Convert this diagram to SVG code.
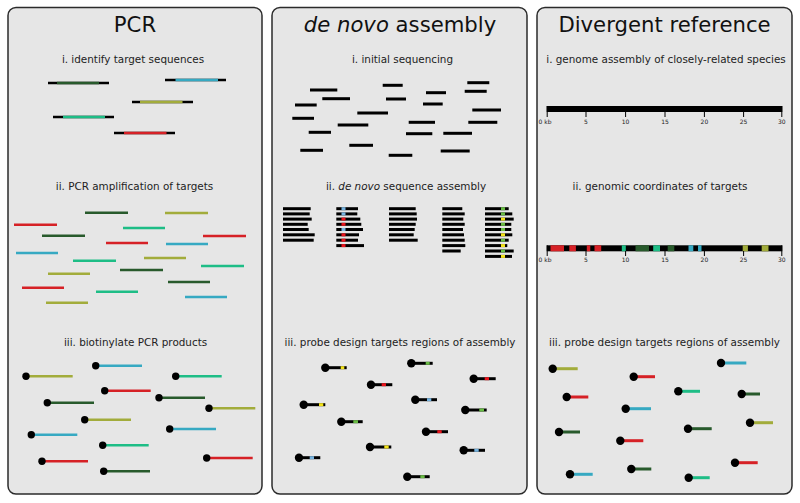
<svg xmlns="http://www.w3.org/2000/svg" width="800" height="503" viewBox="0 0 800 503">
<style>
.panel{fill:#e6e6e6;stroke:#2b2b2b;stroke-width:1.5}
.title{font-family:"DejaVu Sans",sans-serif;font-size:21.2px;fill:#111;text-anchor:middle}
.sub{font-family:"DejaVu Sans",sans-serif;font-size:10.4px;fill:#222;text-anchor:middle}
.tick{font-family:"DejaVu Sans",sans-serif;font-size:6px;fill:#222;text-anchor:middle}
line{stroke-linecap:butt}
.k{stroke:#000}
.r{stroke:#d62126}
.b{stroke:#36a9c2}
.o{stroke:#a2ac3b}
.t{stroke:#1ebd86}
.g{stroke:#285a2c}
.lb{stroke:#77b3df}
.rr{stroke:#e8141c}
.lg{stroke:#69bb45}
.y{stroke:#f2e21a}
.w25{stroke-width:2.6}
.w3{stroke-width:3}
.dot{fill:#000}
</style>

<!-- Panel 1: PCR -->
<g id="panel-pcr">
<rect class="panel" x="8" y="7.5" width="254" height="486.5" rx="8"/>
<text class="title" x="135" y="32">PCR</text>
<text class="sub" x="133" y="63">i. identify target sequences</text>
<g class="w25">
<line class="k" x1="48" y1="83" x2="109" y2="83"/><line class="g" x1="57" y1="83" x2="99" y2="83"/>
<line class="k" x1="165" y1="80" x2="226" y2="80"/><line class="b" x1="175.5" y1="80" x2="218" y2="80"/>
<line class="k" x1="132" y1="102" x2="193" y2="102"/><line class="o" x1="140" y1="102" x2="182.5" y2="102"/>
<line class="k" x1="53" y1="117" x2="114" y2="117"/><line class="t" x1="63" y1="117" x2="105" y2="117"/>
<line class="k" x1="114" y1="133" x2="175" y2="133"/><line class="r" x1="124" y1="133" x2="166.5" y2="133"/>
</g>
<text class="sub" x="134.5" y="190">ii. PCR amplification of targets</text>
<g class="w25">
<line class="g" x1="85" y1="212.7" x2="128" y2="212.7"/>
<line class="o" x1="165" y1="213" x2="208" y2="213"/>
<line class="r" x1="14" y1="224.7" x2="57" y2="224.7"/>
<line class="t" x1="123" y1="228" x2="165" y2="228"/>
<line class="g" x1="42" y1="235.7" x2="85" y2="235.7"/>
<line class="r" x1="203" y1="236" x2="246" y2="236"/>
<line class="r" x1="106" y1="243" x2="148" y2="243"/>
<line class="b" x1="166" y1="244" x2="208" y2="244"/>
<line class="b" x1="16" y1="253" x2="58" y2="253"/>
<line class="o" x1="144" y1="258" x2="186" y2="258"/>
<line class="t" x1="73" y1="260.7" x2="116" y2="260.7"/>
<line class="t" x1="201" y1="266" x2="244" y2="266"/>
<line class="g" x1="120" y1="270" x2="163" y2="270"/>
<line class="o" x1="48" y1="273.7" x2="90" y2="273.7"/>
<line class="g" x1="168" y1="282" x2="210" y2="282"/>
<line class="r" x1="22" y1="287.7" x2="64" y2="287.7"/>
<line class="t" x1="96" y1="291.7" x2="138" y2="291.7"/>
<line class="b" x1="185" y1="297" x2="227" y2="297"/>
<line class="o" x1="46" y1="302.7" x2="88" y2="302.7"/>
</g>
<text class="sub" x="135.5" y="346">iii. biotinylate PCR products</text>
<g class="w25">
<line class="o" x1="26" y1="376.3" x2="72.7" y2="376.3"/><circle class="dot" cx="26" cy="376.3" r="3.7"/>
<line class="b" x1="95.7" y1="365.7" x2="142" y2="365.7"/><circle class="dot" cx="95.7" cy="365.7" r="3.7"/>
<line class="t" x1="175.7" y1="376.3" x2="221.7" y2="376.3"/><circle class="dot" cx="175.7" cy="376.3" r="3.7"/>
<line class="r" x1="104.7" y1="390.7" x2="150.7" y2="390.7"/><circle class="dot" cx="104.7" cy="390.7" r="3.7"/>
<line class="g" x1="47.3" y1="402.7" x2="94" y2="402.7"/><circle class="dot" cx="47.3" cy="402.7" r="3.7"/>
<line class="g" x1="159" y1="397.7" x2="205" y2="397.7"/><circle class="dot" cx="159" cy="397.7" r="3.7"/>
<line class="o" x1="209" y1="408.3" x2="255.3" y2="408.3"/><circle class="dot" cx="209" cy="408.3" r="3.7"/>
<line class="o" x1="84.7" y1="419.7" x2="131" y2="419.7"/><circle class="dot" cx="84.7" cy="419.7" r="3.7"/>
<line class="b" x1="31.3" y1="434.7" x2="77.3" y2="434.7"/><circle class="dot" cx="31.3" cy="434.7" r="3.7"/>
<line class="b" x1="169.7" y1="429" x2="216" y2="429"/><circle class="dot" cx="169.7" cy="429" r="3.7"/>
<line class="t" x1="102.7" y1="445.3" x2="148.7" y2="445.3"/><circle class="dot" cx="102.7" cy="445.3" r="3.7"/>
<line class="r" x1="42" y1="461.3" x2="88" y2="461.3"/><circle class="dot" cx="42" cy="461.3" r="3.7"/>
<line class="r" x1="206.7" y1="458" x2="252.7" y2="458"/><circle class="dot" cx="206.7" cy="458" r="3.7"/>
<line class="g" x1="103.7" y1="471.3" x2="150" y2="471.3"/><circle class="dot" cx="103.7" cy="471.3" r="3.7"/>
</g>
</g>

<!-- Panel 2: de novo assembly -->
<g id="panel-denovo">
<rect class="panel" x="272" y="7.5" width="255" height="486.5" rx="8"/>
<text class="title" x="400" y="32"><tspan font-style="italic">de novo</tspan> assembly</text>
<text class="sub" x="402.5" y="63">i. initial sequencing</text>
<g class="k w3">
<line x1="310" y1="90" x2="337.3" y2="90"/>
<line x1="382.7" y1="85.3" x2="402.7" y2="85.3"/>
<line x1="467.3" y1="82.7" x2="489.3" y2="82.7"/>
<line x1="322.3" y1="98.7" x2="350" y2="98.7"/>
<line x1="386" y1="99" x2="406" y2="99"/>
<line x1="426" y1="92.7" x2="446" y2="92.7"/>
<line x1="464.7" y1="91.3" x2="486.7" y2="91.3"/>
<line x1="295" y1="105" x2="316.7" y2="105"/>
<line x1="423" y1="104" x2="442.7" y2="104"/>
<line x1="472.3" y1="110" x2="501" y2="110"/>
<line x1="357.3" y1="113" x2="388" y2="113"/>
<line x1="292.3" y1="118.3" x2="314" y2="118.3"/>
<line x1="337.7" y1="125" x2="368.3" y2="125"/>
<line x1="408.7" y1="122.3" x2="435" y2="122.3"/>
<line x1="468.3" y1="122.3" x2="497.3" y2="122.3"/>
<line x1="308.7" y1="132.3" x2="331" y2="132.3"/>
<line x1="406" y1="133.7" x2="432.3" y2="133.7"/>
<line x1="443.3" y1="133.3" x2="472" y2="133.3"/>
<line x1="349.3" y1="145.3" x2="373" y2="145.3"/>
<line x1="300.3" y1="150.3" x2="323" y2="150.3"/>
<line x1="388.7" y1="155.3" x2="412.3" y2="155.3"/>
<line x1="440.7" y1="151" x2="469.7" y2="151"/>
</g>
<text class="sub" x="406" y="190">ii. <tspan font-style="italic">de novo</tspan> sequence assembly</text>
<g class="k w3">
<!-- stack 1 -->
<line x1="283" y1="208.7" x2="310.7" y2="208.7"/>
<line x1="283" y1="213.9" x2="309.7" y2="213.9"/>
<line x1="283" y1="219.1" x2="311.7" y2="219.1"/>
<line x1="283" y1="224.3" x2="307.7" y2="224.3"/>
<line x1="283" y1="229.5" x2="308.7" y2="229.5"/>
<line x1="283" y1="234.8" x2="314.7" y2="234.8"/>
<line x1="283" y1="240.2" x2="313.7" y2="240.2"/>
<!-- stack 2 -->
<line x1="336.3" y1="208.7" x2="358" y2="208.7"/>
<line x1="336.3" y1="213.9" x2="357.3" y2="213.9"/>
<line x1="336.3" y1="219.1" x2="360.3" y2="219.1"/>
<line x1="336.3" y1="224.3" x2="361.3" y2="224.3"/>
<line x1="336.3" y1="229.5" x2="363" y2="229.5"/>
<line x1="336.3" y1="234.8" x2="359" y2="234.8"/>
<line x1="336.3" y1="240.2" x2="358" y2="240.2"/>
<line x1="336.3" y1="245.6" x2="364" y2="245.6"/>
<!-- stack 3 -->
<line x1="389" y1="208.7" x2="415.7" y2="208.7"/>
<line x1="389" y1="213.9" x2="416.7" y2="213.9"/>
<line x1="389" y1="219.1" x2="417" y2="219.1"/>
<line x1="389" y1="224.3" x2="415.7" y2="224.3"/>
<line x1="389" y1="229.5" x2="414.7" y2="229.5"/>
<line x1="389" y1="234.8" x2="413.7" y2="234.8"/>
<line x1="389" y1="240.2" x2="417.7" y2="240.2"/>
<!-- stack 4 -->
<line x1="442.3" y1="208.7" x2="462.3" y2="208.7"/>
<line x1="442.3" y1="213.9" x2="464.7" y2="213.9"/>
<line x1="442.3" y1="219.1" x2="463.3" y2="219.1"/>
<line x1="442.3" y1="224.3" x2="464.7" y2="224.3"/>
<line x1="442.3" y1="229.5" x2="463" y2="229.5"/>
<line x1="442.3" y1="234.8" x2="464" y2="234.8"/>
<line x1="442.3" y1="240.2" x2="464.7" y2="240.2"/>
<line x1="442.3" y1="245.6" x2="465.3" y2="245.6"/>
<line x1="442.3" y1="251" x2="460.7" y2="251"/>
<!-- stack 5 -->
<line x1="485" y1="208.7" x2="508.7" y2="208.7"/>
<line x1="485" y1="213.9" x2="512.3" y2="213.9"/>
<line x1="485" y1="219.1" x2="513.7" y2="219.1"/>
<line x1="485" y1="224.3" x2="511.3" y2="224.3"/>
<line x1="485" y1="229.5" x2="511.3" y2="229.5"/>
<line x1="485" y1="234.8" x2="512.3" y2="234.8"/>
<line x1="485" y1="240.2" x2="508.7" y2="240.2"/>
<line x1="485" y1="245.6" x2="507.3" y2="245.6"/>
<line x1="485" y1="251" x2="513.7" y2="251"/>
<line x1="485" y1="256.4" x2="512" y2="256.4"/>
</g>
<g class="w3">
<line class="lb" x1="341.5" y1="208.7" x2="345.5" y2="208.7"/>
<line class="lb" x1="341.5" y1="213.9" x2="345.5" y2="213.9"/>
<line class="rr" x1="341.5" y1="219.1" x2="345.5" y2="219.1"/>
<line class="rr" x1="341.5" y1="224.3" x2="345.5" y2="224.3"/>
<line class="lb" x1="341.5" y1="229.5" x2="345.5" y2="229.5"/>
<line class="rr" x1="341.5" y1="234.8" x2="345.5" y2="234.8"/>
<line class="rr" x1="341.5" y1="240.2" x2="345.5" y2="240.2"/>
<line class="rr" x1="341.5" y1="245.6" x2="345.5" y2="245.6"/>
<line class="lg" x1="501" y1="208.7" x2="505" y2="208.7"/>
<line class="lg" x1="501" y1="213.9" x2="505" y2="213.9"/>
<line class="y" x1="501" y1="219.1" x2="505" y2="219.1"/>
<line class="lg" x1="501" y1="224.3" x2="505" y2="224.3"/>
<line class="lg" x1="501" y1="229.5" x2="505" y2="229.5"/>
<line class="y" x1="501" y1="234.8" x2="505" y2="234.8"/>
<line class="lg" x1="501" y1="240.2" x2="505" y2="240.2"/>
<line class="y" x1="501" y1="245.6" x2="505" y2="245.6"/>
<line class="lg" x1="501" y1="251" x2="505" y2="251"/>
<line class="y" x1="501" y1="256.4" x2="505" y2="256.4"/>
</g>
<text class="sub" x="400" y="346">iii. probe design targets regions of assembly</text>
<g class="w3">
<line class="k" x1="325.3" y1="367.7" x2="346.7" y2="367.7"/><line class="y" x1="340.7" y1="367.7" x2="344.3" y2="367.7"/><circle class="dot" cx="325.3" cy="367.7" r="4.2"/>
<line class="k" x1="411.3" y1="363.3" x2="432.7" y2="363.3"/><line class="lg" x1="425.7" y1="363.3" x2="429.7" y2="363.3"/><circle class="dot" cx="411.3" cy="363.3" r="4.2"/>
<line class="k" x1="473.7" y1="378.7" x2="495.7" y2="378.7"/><line class="rr" x1="484.7" y1="378.7" x2="489" y2="378.7"/><circle class="dot" cx="473.7" cy="378.7" r="4.2"/>
<line class="k" x1="371" y1="384.7" x2="392.3" y2="384.7"/><line class="rr" x1="381.7" y1="384.7" x2="386" y2="384.7"/><circle class="dot" cx="371" cy="384.7" r="4.2"/>
<line class="k" x1="303.7" y1="404.7" x2="325.3" y2="404.7"/><line class="y" x1="319" y1="404.7" x2="323.3" y2="404.7"/><circle class="dot" cx="303.7" cy="404.7" r="4.2"/>
<line class="k" x1="415.3" y1="399.7" x2="437" y2="399.7"/><line class="lb" x1="427" y1="399.7" x2="431.3" y2="399.7"/><circle class="dot" cx="415.3" cy="399.7" r="4.2"/>
<line class="k" x1="465.3" y1="410" x2="486.7" y2="410"/><line class="lg" x1="479.3" y1="410" x2="484" y2="410"/><circle class="dot" cx="465.3" cy="410" r="4.2"/>
<line class="k" x1="341.3" y1="421.7" x2="362.7" y2="421.7"/><line class="lg" x1="353.3" y1="421.7" x2="358" y2="421.7"/><circle class="dot" cx="341.3" cy="421.7" r="4.2"/>
<line class="k" x1="426" y1="431.7" x2="448" y2="431.7"/><line class="rr" x1="437.3" y1="431.7" x2="441.7" y2="431.7"/><circle class="dot" cx="426" cy="431.7" r="4.2"/>
<line class="k" x1="370" y1="447" x2="391.3" y2="447"/><line class="y" x1="384.3" y1="447" x2="388.7" y2="447"/><circle class="dot" cx="370" cy="447" r="4.2"/>
<line class="k" x1="463.7" y1="450.3" x2="485" y2="450.3"/><line class="lb" x1="474.3" y1="450.3" x2="478.7" y2="450.3"/><circle class="dot" cx="463.7" cy="450.3" r="4.2"/>
<line class="k" x1="299" y1="457.7" x2="320.3" y2="457.7"/><line class="lb" x1="309.7" y1="457.7" x2="314" y2="457.7"/><circle class="dot" cx="299" cy="457.7" r="4.2"/>
<line class="k" x1="407.3" y1="476.7" x2="429.7" y2="476.7"/><line class="lg" x1="420.3" y1="476.7" x2="424.7" y2="476.7"/><circle class="dot" cx="407.3" cy="476.7" r="4.2"/>
</g>
</g>

<!-- Panel 3: Divergent reference -->
<g id="panel-divergent">
<rect class="panel" x="537" y="7.5" width="255" height="486.5" rx="8"/>
<text class="title" x="664.5" y="32">Divergent reference</text>
<text class="sub" x="666" y="63">i. genome assembly of closely-related species</text>
<g id="scale-1">
<rect x="546.7" y="106" width="235.6" height="6" fill="#000"/>
<g class="k" stroke-width="1">
<line x1="547.2" y1="106" x2="547.2" y2="117"/>
<line x1="586" y1="106" x2="586" y2="117"/>
<line x1="625.6" y1="106" x2="625.6" y2="117"/>
<line x1="665" y1="106" x2="665" y2="117"/>
<line x1="704.4" y1="106" x2="704.4" y2="117"/>
<line x1="743.6" y1="106" x2="743.6" y2="117"/>
<line x1="781.8" y1="106" x2="781.8" y2="117"/>
</g>
<text class="tick" x="545" y="124" text-anchor="start">0 kb</text>
<text class="tick" x="586" y="124">5</text>
<text class="tick" x="625.6" y="124">10</text>
<text class="tick" x="665" y="124">15</text>
<text class="tick" x="704.4" y="124">20</text>
<text class="tick" x="743.6" y="124">25</text>
<text class="tick" x="781.8" y="124">30</text>
</g>
<text class="sub" x="660" y="190">ii. genomic coordinates of targets</text>
<g id="scale-2">
<rect x="546.7" y="245.3" width="235.6" height="6" fill="#000"/>
<rect x="550.5" y="245.3" width="13.5" height="6" fill="#d62126"/>
<rect x="569.3" y="245.3" width="6.6" height="6" fill="#d62126"/>
<rect x="586.8" y="245.3" width="3.5" height="6" fill="#d62126"/>
<rect x="594.5" y="245.3" width="6.7" height="6" fill="#d62126"/>
<rect x="621.8" y="245.3" width="4" height="6" fill="#1ebd86"/>
<rect x="635.5" y="245.3" width="13.5" height="6" fill="#285a2c"/>
<rect x="653.2" y="245.3" width="6.8" height="6" fill="#1ebd86"/>
<rect x="667.7" y="245.3" width="6.6" height="6" fill="#285a2c"/>
<rect x="688.5" y="245.3" width="4.8" height="6" fill="#36a9c2"/>
<rect x="698" y="245.3" width="3.5" height="6" fill="#36a9c2"/>
<rect x="742.7" y="245.3" width="5.2" height="6" fill="#a2ac3b"/>
<rect x="761.7" y="245.3" width="6.8" height="6" fill="#a2ac3b"/>
<g class="k" stroke-width="1">
<line x1="547.2" y1="245.3" x2="547.2" y2="256"/>
<line x1="586" y1="251" x2="586" y2="256"/>
<line x1="625.6" y1="251" x2="625.6" y2="256"/>
<line x1="665" y1="251" x2="665" y2="256"/>
<line x1="704.4" y1="251" x2="704.4" y2="256"/>
<line x1="743.6" y1="251" x2="743.6" y2="256"/>
<line x1="781.8" y1="245.3" x2="781.8" y2="256"/>
</g>
<text class="tick" x="545" y="262" text-anchor="start">0 kb</text>
<text class="tick" x="586" y="262">5</text>
<text class="tick" x="625.6" y="262">10</text>
<text class="tick" x="665" y="262">15</text>
<text class="tick" x="704.4" y="262">20</text>
<text class="tick" x="743.6" y="262">25</text>
<text class="tick" x="781.8" y="262">30</text>
</g>
<text class="sub" x="664.5" y="346">iii. probe design targets regions of assembly</text>
<g class="w3">
<line class="o" x1="552.7" y1="368.7" x2="577.7" y2="368.7"/><circle class="dot" cx="552.7" cy="368.7" r="4.2"/>
<line class="r" x1="633.7" y1="376.7" x2="655" y2="376.7"/><circle class="dot" cx="633.7" cy="376.7" r="4.2"/>
<line class="b" x1="721" y1="363" x2="746.3" y2="363"/><circle class="dot" cx="721" cy="363" r="4.2"/>
<line class="r" x1="566.7" y1="397" x2="588.3" y2="397"/><circle class="dot" cx="566.7" cy="397" r="4.2"/>
<line class="t" x1="678.3" y1="391.3" x2="700" y2="391.3"/><circle class="dot" cx="678.3" cy="391.3" r="4.2"/>
<line class="g" x1="741.7" y1="394" x2="760" y2="394"/><circle class="dot" cx="741.7" cy="394" r="4.2"/>
<line class="b" x1="625.7" y1="408.7" x2="651" y2="408.7"/><circle class="dot" cx="625.7" cy="408.7" r="4.2"/>
<line class="g" x1="559" y1="432" x2="580" y2="432"/><circle class="dot" cx="559" cy="432" r="4.2"/>
<line class="g" x1="688" y1="428.7" x2="711.7" y2="428.7"/><circle class="dot" cx="688" cy="428.7" r="4.2"/>
<line class="o" x1="750" y1="422.7" x2="773" y2="422.7"/><circle class="dot" cx="750" cy="422.7" r="4.2"/>
<line class="r" x1="620.3" y1="440.7" x2="643.3" y2="440.7"/><circle class="dot" cx="620.3" cy="440.7" r="4.2"/>
<line class="b" x1="570" y1="474.3" x2="592.7" y2="474.3"/><circle class="dot" cx="570" cy="474.3" r="4.2"/>
<line class="g" x1="631.3" y1="469" x2="651.3" y2="469"/><circle class="dot" cx="631.3" cy="469" r="4.2"/>
<line class="t" x1="688.7" y1="477.7" x2="709.7" y2="477.7"/><circle class="dot" cx="688.7" cy="477.7" r="4.2"/>
<line class="r" x1="735" y1="462.7" x2="757.7" y2="462.7"/><circle class="dot" cx="735" cy="462.7" r="4.2"/>
</g>
</g>
</svg>
